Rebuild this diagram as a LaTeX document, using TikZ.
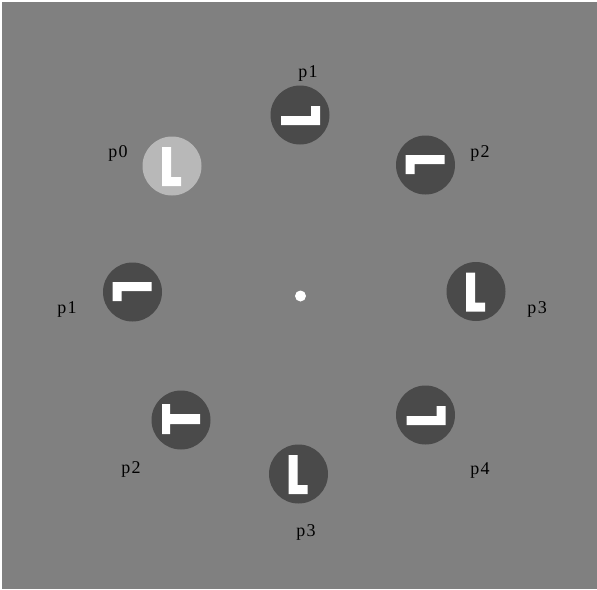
\documentclass[tikz,border=0pt]{standalone}
\usepackage{fontspec}
\setmainfont{Liberation Serif}
\usepackage{tikz}

\definecolor{fundo}{gray}{0.5}
\definecolor{escuro}{gray}{0.29}
\definecolor{claro}{gray}{0.72}

\begin{document}
\begin{tikzpicture}[
	x=1pt, y=-1pt,
	disco/.style={circle, fill=escuro, minimum size=59pt, inner sep=0pt},
	disclaro/.style={disco, fill=claro},
	rot/.style={font=\fontsize{18}{18}\selectfont, inner sep=0pt},
	letral/.pic={\fill[white] (-10,-19) -- (-1,-19) -- (-1,11) -- (9,11) -- (9,20) -- (-10,20) -- cycle;},
	letrat/.pic={\fill[white] (-19,-16) -- (-11,-16) -- (-11,-6) -- (19,-6) -- (19,4) -- (-11,4) -- (-11,14) -- (-19,14) -- cycle;}
	]
	\fill[white] (0,0) rectangle (597,589);
	\fill[fundo] (2,2) rectangle (597,589);

	\node[disco] (d1) at (300,115)   {};
	\node[disclaro] (d0) at (172,166) {};
	\node[disco] (d2) at (425.5,165) {};
	\node[disco] (d3) at (132.5,292) {};
	\node[disco] (d4) at (476,291.5) {};
	\node[disco] (d5) at (181,420)   {};
	\node[disco] (d6) at (425.5,415) {};
	\node[disco] (d7) at (298.5,474) {};
	\node[circle, fill=white, minimum size=11pt, inner sep=0pt] (centro) at (300.5,296) {};

	\pic[rotate=90]  at (d1) {letral};
	\pic             at (d0) {letral};
	\pic[rotate=-90] at (d2) {letral};
	\pic[rotate=-90] at (d3) {letral};
	\pic             at (d4) {letral};
	\pic             at (d5) {letrat};
	\pic[rotate=90]  at (d6) {letral};
	\pic             at (d7) {letral};

	\node[rot] (r1) at (308,73)  {p\kern1.5pt 1};
	\node[rot] (r0) at (118,153) {p\kern1.5pt 0};
	\node[rot] (r2) at (480,153) {p\kern1.5pt 2};
	\node[rot] (r3) at (67,309)  {p\kern1.5pt 1};
	\node[rot] (r4) at (537,309) {p\kern1.5pt 3};
	\node[rot] (r5) at (131,469) {p\kern1.5pt 2};
	\node[rot] (r6) at (480,470) {p\kern1.5pt 4};
	\node[rot] (r7) at (306,532) {p\kern1.5pt 3};
\end{tikzpicture}
\end{document}
